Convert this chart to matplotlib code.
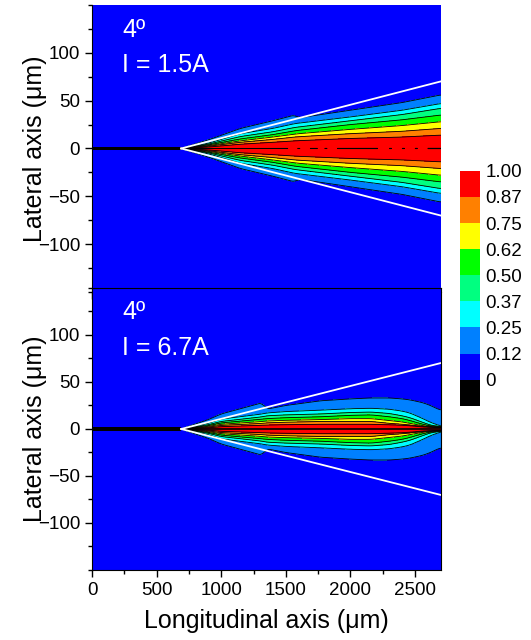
import numpy as np
import matplotlib
matplotlib.use("Agg")
import matplotlib.pyplot as plt
from matplotlib.colors import ListedColormap, BoundaryNorm
from matplotlib.colorbar import ColorbarBase
from matplotlib.ticker import MultipleLocator

plt.rcParams['font.family'] = ['Liberation Sans', 'DejaVu Sans']

# colour levels of the normalised intensity
levels = [-0.125, 0.0, 0.125, 0.25, 0.375, 0.5, 0.625, 0.75, 0.875, 1.0001]
level_labels = ['0', '0.12', '0.25', '0.37', '0.50', '0.62', '0.75', '0.87', '1.00']
colors_list = ['#000000', '#0000FF', '#0080FF', '#00FFFF', '#00FF80',
               '#00FF00', '#FFFF00', '#FF8000', '#FF0000']

# geometry
taper_start = 690          # end of the straight waveguide (um)
waveguide_half = 2.5       # half width of the black waveguide strip (um)
taper_half_angle = 2.0     # half of the 4 deg taper (deg)
x_max = 2700
y_lim = 150

# half widths (um) of each contour boundary, top panel I = 1.5 A
top_x = [690, 900, 1150, 1400, 1570, 1600, 2000, 2400, 2700]
top_w012 = [0, 9, 21, 29, 35, 32, 40, 48, 56]
top_w025 = [0, 5.5, 15.5, 21, 26, 26.5, 33, 40, 47]
top_w037 = [0, 4.5, 12.5, 17.5, 22, 22.5, 29, 35.5, 42]
top_w050 = [0, 3.7, 10, 14.5, 18.5, 19, 25, 30, 35]
top_w062 = [0, 3, 8, 12, 15, 15.5, 20, 24, 28]
top_w075 = [0, 2.3, 6.5, 9.5, 12, 12.3, 15.5, 18, 21]
top_w087 = [0, 1.5, 4.5, 6.5, 8, 8.2, 10.5, 12, 14]
# stretches of the axis where the peak reaches 1.00 (top panel)
top_peak_spans = [(690, 1515), (1592, 1608), (1690, 1745), (1802, 1818),
                  (1900, 2210), (2302, 2318), (2402, 2418), (2502, 2518), (2600, 2700)]

# half widths (um) of each contour boundary, bottom panel I = 6.7 A
bot_x = [690, 900, 1000, 1320, 1350, 1500, 1770, 2000, 2160, 2300, 2400, 2460,
         2560, 2620, 2680, 2700]
bot_w012 = [0, 10, 16, 28, 21, 25, 30, 32, 33, 33, 32, 31, 28, 25, 21, 20]
bot_w025 = [0, 6, 10.5, 16, 17, 18.5, 20, 21.5, 22, 21, 19, 17, 11, 7, 4, 3]
bot_w037 = [0, 4.5, 8, 13, 14, 15, 16, 17.5, 18, 16.5, 14, 12, 7, 4, 2.8, 2.5]
bot_w050 = [0, 3.5, 6.5, 10.5, 11, 12, 13, 14.5, 15, 13, 11, 9, 5, 3.2, 2.3, 2.1]
bot_w062 = [0, 2.8, 5, 8, 8.5, 9.2, 10, 11, 11, 9, 7.5, 6, 3.5, 2.6, 2, 1.8]
bot_w075 = [0, 2, 3.8, 6, 6.5, 7.2, 8, 8, 8, 6, 5, 4.2, 2.8, 2.2, 1.7, 1.6]
bot_w087 = [0, 1.2, 2.5, 4, 4.2, 4.6, 5, 5, 5, 4.5, 4, 3.5, 2.2, 1.8, 1.5, 1.4]
bot_peak_spans = [(690, 2700)]

panel_text = ['4º\nI = 1.5A', '4º\nI = 6.7A']


def smooth(v, n):
    '''Moving average with edge padding'''
    k = np.ones(n) / n
    vp = np.pad(v, n // 2, mode='edge')
    return np.convolve(vp, k, mode='same')[n // 2:n // 2 + len(v)]


def build_field(xg, yg, xs, widths, peak_spans):
    '''Rebuild the intensity map from the contour half widths'''
    background = 0.06
    Z = np.full((len(yg), len(xg)), background)
    bounds = [0.875, 0.75, 0.625, 0.5, 0.375, 0.25, 0.125]
    w_at = np.array([smooth(np.interp(xg, xs, w), 31) for w in widths[::-1]])
    peak = np.full(len(xg), 0.995)
    for a, b in peak_spans:
        peak[(xg >= a) & (xg <= b)] = 1.0
    ay = np.abs(yg)
    for j, x in enumerate(xg):
        if x <= taper_start:
            continue
        ws = w_at[:, j] * min(1.0, (x - taper_start) / 40.0 + 0.2) + np.arange(1, 8) * 1e-3
        ws = np.maximum.accumulate(ws)
        xp = np.concatenate([[0], ws, [ws[-1] * 1.2 + 1.5]])
        fp = np.concatenate([[peak[j]], bounds, [background]])
        Z[:, j] = np.interp(ay, xp, fp)
    X, Y = np.meshgrid(xg, yg)
    Z[(X <= taper_start) & (np.abs(Y) < waveguide_half)] = -0.06
    return Z


xg = np.linspace(0, x_max, 1351)
yg = np.linspace(-y_lim, y_lim, 1201)
fields = [
    build_field(xg, yg, top_x, [top_w012, top_w025, top_w037, top_w050, top_w062, top_w075, top_w087],
                top_peak_spans),
    build_field(xg, yg, bot_x, [bot_w012, bot_w025, bot_w037, bot_w050, bot_w062, bot_w075, bot_w087],
                bot_peak_spans),
]

cmap = ListedColormap(colors_list)
norm = BoundaryNorm(levels, cmap.N)

fig = plt.figure(figsize=(5.31, 6.40), dpi=100)
ax_top = fig.add_axes([0.1733, 0.544, 0.657, 0.448])
ax_bot = fig.add_axes([0.1733, 0.1094, 0.657, 0.4406])

line_x = np.array([taper_start, x_max])
line_y = (line_x - taper_start) * np.tan(np.radians(taper_half_angle))

for ax, Z, txt in zip([ax_top, ax_bot], fields, panel_text):
    ax.contourf(xg, yg, Z, levels=levels, colors=colors_list)
    ax.contour(xg, yg, Z, levels=levels[2:-1] + [0.998], colors='black', linewidths=0.6)
    ax.plot(line_x, line_y, color='white', lw=1.3)
    ax.plot(line_x, -line_y, color='white', lw=1.3)
    ax.text(235, 137, txt, color='white', fontsize=18, va='top', ha='left',
            linespacing=1.6)
    ax.set_xlim(0, x_max)
    ax.set_ylim(-y_lim, y_lim)
    ax.set_yticks([-100, -50, 0, 50, 100])
    ax.yaxis.set_minor_locator(MultipleLocator(25))
    ax.xaxis.set_major_locator(MultipleLocator(500))
    ax.xaxis.set_minor_locator(MultipleLocator(250))
    ax.tick_params(which='major', direction='out', length=5, width=1, labelsize=13.5)
    ax.tick_params(which='minor', direction='out', length=3, width=1)
    ax.set_ylabel('Lateral axis (μm)', fontsize=18)
    ax.yaxis.set_label_coords(-0.13, 0.5)

# only the first tick label of the upper panel shows beside the lower one
ax_top.set_xticklabels(['0'] + [''] * (len(ax_top.get_xticks()) - 1))
for s in ['top', 'right']:
    ax_top.spines[s].set_visible(False)
ax_bot.set_xlabel('Longitudinal axis (μm)', fontsize=18, labelpad=7)

# colour scale
cax = fig.add_axes([0.866, 0.366, 0.0377, 0.367])
cb = ColorbarBase(cax, cmap=cmap, norm=norm, boundaries=levels,
                  ticks=levels[1:], spacing='uniform')
cb.ax.set_yticklabels(level_labels)
cb.ax.minorticks_off()
cb.outline.set_visible(False)
cb.ax.tick_params(length=0, labelsize=13.5, pad=4)

fig.savefig('out.png', dpi=100)
